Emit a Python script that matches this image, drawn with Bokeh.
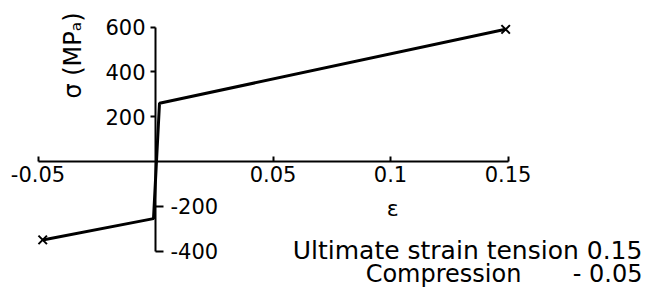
import math
from bokeh.plotting import figure
from bokeh.models import (Range1d, LinearAxis, FixedTicker, CustomJSTickFormatter, Label)
from bokeh.embed import file_html
from bokeh.resources import INLINE

# data
strain = [-0.048, -0.00085, 0.0017, 0.149]
stress = [-350, -255, 260, 590]
end_strain = [-0.048, 0.149]
end_stress = [-350, 590]

x_ticks = [-0.05, 0.05, 0.1, 0.15]
y_ticks_pos = [200, 400, 600]
y_ticks_neg = [-200, -400]

FONT = "DejaVu Sans"

p = figure(width=658, height=289, output_backend="svg", toolbar_location=None,
           x_range=Range1d(-0.06596, 0.21404), y_range=Range1d(-571.4, 718.75),
           x_axis_type=None, y_axis_type=None, min_border=0,
           outline_line_color=None)
p.xgrid.visible = False
p.ygrid.visible = False

fmt = CustomJSTickFormatter(code="return tick.toString()")

def style(ax, size="21px"):
    ax.axis_line_width = 2
    ax.axis_line_color = "black"
    ax.major_tick_line_width = 2
    ax.major_tick_line_color = "black"
    ax.minor_tick_line_color = None
    ax.major_label_text_font = FONT
    ax.major_label_text_font_size = size
    ax.major_label_text_color = "black"
    ax.formatter = fmt

xa = LinearAxis(ticker=FixedTicker(ticks=x_ticks), fixed_location=0, bounds=(-0.05, 0.15))
style(xa)
xa.major_tick_in = 5
xa.major_tick_out = 0
xa.major_label_standoff = 4
p.add_layout(xa, "below")

ya = LinearAxis(ticker=FixedTicker(ticks=y_ticks_pos), fixed_location=0, bounds=(0, 600))
style(ya)
ya.major_tick_in = 0
ya.major_tick_out = 5
ya.major_label_standoff = 5
p.add_layout(ya, "left")

yb = LinearAxis(ticker=FixedTicker(ticks=y_ticks_neg), fixed_location=0, bounds=(-400, 0))
style(yb)
yb.major_tick_in = 0
yb.major_tick_out = 8
yb.major_label_standoff = 7
p.add_layout(yb, "right")

p.line(strain, stress, line_color="black", line_width=3)
p.scatter(end_strain, end_stress, marker="x", size=12, line_color="black", line_width=2)

p.add_layout(Label(x=-0.0349, y=473, text="σ (MPₐ)", angle=math.pi / 2,
                   text_align="center", text_baseline="middle",
                   text_font=FONT, text_font_size="24px", text_color="black"))
p.add_layout(Label(x=0.1009, y=-210, text="ε", text_align="center", text_baseline="middle",
                   text_font=FONT, text_font_size="22px", text_color="black"))
p.add_layout(Label(x=0.2072, y=-398, text="Ultimate strain tension 0.15",
                   text_align="right", text_baseline="alphabetic",
                   text_font=FONT, text_font_size="25px", text_color="black"))
p.add_layout(Label(x=0.1557, y=-500, text="Compression",
                   text_align="right", text_baseline="alphabetic",
                   text_font=FONT, text_font_size="24px", text_color="black"))
p.add_layout(Label(x=0.2072, y=-500, text="- 0.05",
                   text_align="right", text_baseline="alphabetic",
                   text_font=FONT, text_font_size="24px", text_color="black"))

open("out.html", "w").write(file_html(p, INLINE))
